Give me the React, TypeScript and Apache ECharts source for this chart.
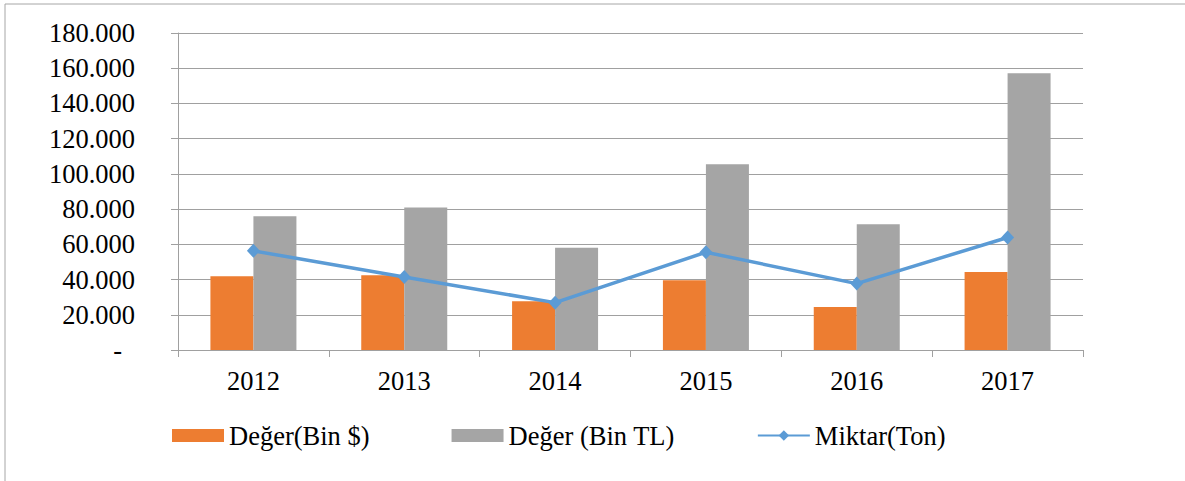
import React, { useEffect, useRef } from "react";
import * as echarts from "echarts";

const years = ["2012", "2013", "2014", "2015", "2016", "2017"];
const degerUsd = [41900, 42500, 27700, 39600, 24400, 44300];
const degerTl = [76000, 80900, 58000, 105500, 71400, 157100];
const miktarTon = [56300, 41500, 26900, 55500, 37700, 63900];
const seriesNames = ["Değer(Bin $)", "Değer (Bin TL)", "Miktar(Ton)"];

const FONT = "Liberation Serif";
const FS = 26.5;

function fmt(v: number): string {
  if (v === 0) return "{d|-}";
  return String(Math.round(v)).replace(/\B(?=(\d{3})+(?!\d))/g, ".");
}

export default function App() {
  const ref = useRef<HTMLDivElement>(null);
  useEffect(() => {
    if (!ref.current) return;
    const chart = echarts.init(ref.current, null, { renderer: "svg" });
    chart.setOption({
      animation: false,
      backgroundColor: "#ffffff",
      textStyle: { fontFamily: FONT },
      graphic: [
        {
          type: "rect",
          shape: { x: 5, y: 4, width: 1400, height: 700 },
          style: { fill: "none", stroke: "#a6a6a6", lineWidth: 1 },
          silent: true,
        },
      ],
      grid: {
        left: 178,
        right: 102,
        top: 33,
        bottom: 131,
        containLabel: false,
        outerBoundsMode: "none",
      },
      legend: {
        left: 172,
        top: 422,
        padding: 0,
        itemWidth: 52,
        itemHeight: 13,
        itemGap: 82,
        textStyle: { fontFamily: FONT, fontSize: FS, color: "#000" },
        data: [
          { name: seriesNames[0], icon: "rect" },
          { name: seriesNames[1], icon: "rect" },
          { name: seriesNames[2] },
        ],
      },
      xAxis: {
        type: "category",
        data: years,
        axisLine: { show: true, lineStyle: { color: "#a0a0a0", width: 1 } },
        axisTick: { show: true, length: 7, lineStyle: { color: "#a0a0a0" } },
        axisLabel: {
          fontFamily: FONT,
          fontSize: FS,
          color: "#000",
          margin: 17,
        },
        splitLine: { show: false },
      },
      yAxis: {
        type: "value",
        min: 0,
        max: 180000,
        interval: 20000,
        axisLine: { show: true, lineStyle: { color: "#a0a0a0", width: 1 } },
        axisTick: { show: true, length: 7, lineStyle: { color: "#a0a0a0" } },
        splitLine: { show: true, lineStyle: { color: "#a0a0a0", width: 1 } },
        axisLabel: {
          fontFamily: FONT,
          fontSize: FS,
          color: "#000",
          margin: 43,
          formatter: (v: number) => fmt(v),
          rich: {
            d: {
              fontFamily: FONT,
              fontSize: FS,
              color: "#000",
              padding: [0, 13, 0, 0],
            },
          },
        },
      },
      series: [
        {
          name: seriesNames[0],
          type: "bar",
          data: degerUsd,
          barWidth: 43,
          barGap: "0%",
          itemStyle: { color: "#ED7D31" },
        },
        {
          name: seriesNames[1],
          type: "bar",
          data: degerTl,
          barWidth: 43,
          barGap: "0%",
          itemStyle: { color: "#A5A5A5" },
        },
        {
          name: seriesNames[2],
          type: "line",
          data: miktarTon,
          symbol: "diamond",
          symbolSize: [13, 14],
          z: 5,
          lineStyle: { color: "#5B9BD5", width: 3.5 },
          itemStyle: { color: "#5B9BD5" },
        },
      ],
    });
    return () => chart.dispose();
  }, []);
  return (
    <div
      ref={ref}
      style={{ position: "absolute", left: 0, top: 0, width: 1185, height: 481 }}
    />
  );
}
